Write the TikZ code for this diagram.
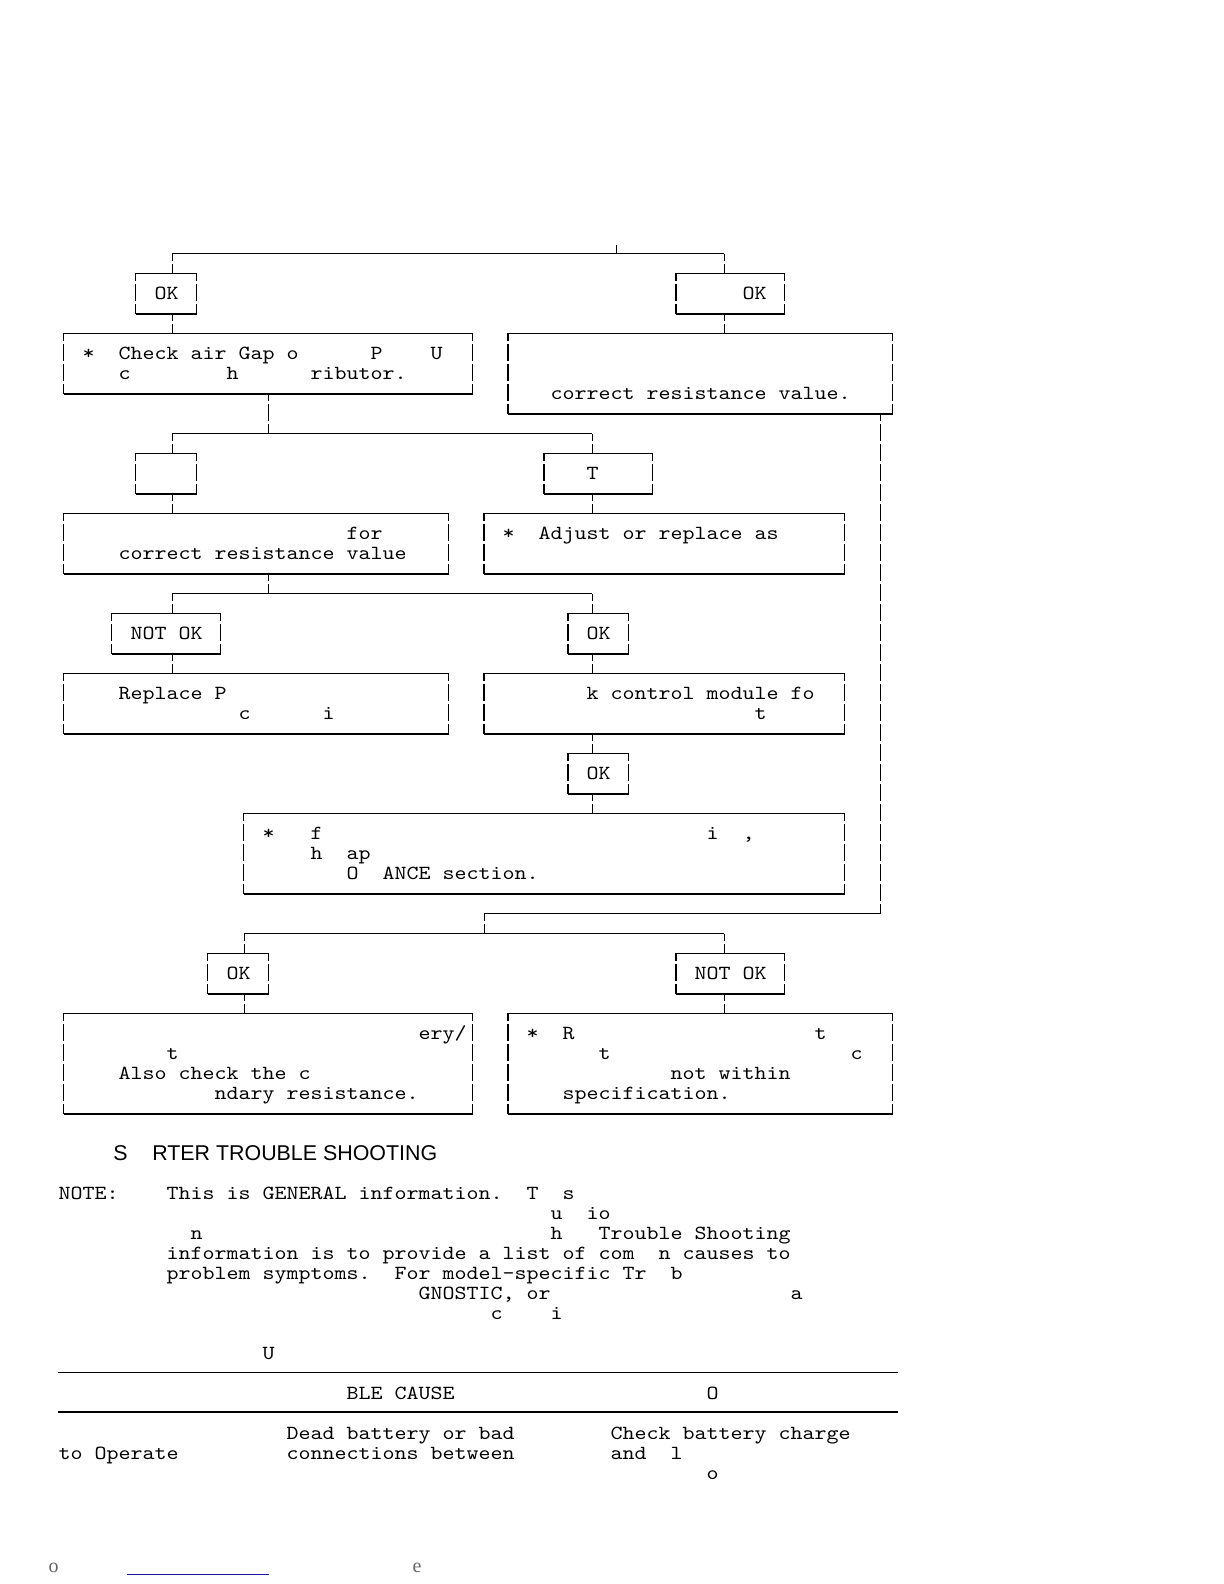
\documentclass[tikz,border=0pt]{standalone}
\usepackage{fontspec}
\setmonofont{lmmono10-regular.otf}[FakeStretch=1.1429]
\newfontfamily\headfont{Liberation Sans}
\newfontfamily\footfont{Liberation Serif}
\usepackage{tikz}
\usetikzlibrary{fit}
\definecolor{linkblue}{RGB}{26,26,160}
\newlength\cw
\setlength\cw{6pt}
\newcommand\sk[1]{\hspace*{#1\cw}}

\begin{document}
\frenchspacing
\begin{tikzpicture}[x=6pt, y=-10pt,
    box/.style={inner sep=0pt, fit={#1}},
    txt/.style={anchor=base west, inner sep=0pt, font=\ttfamily\fontsize{10}{10}\selectfont},
    bus/.style={draw, line width=0.6pt},
    link/.style={draw, line width=0.6pt, dash pattern=on 8.5pt off 1.5pt, dash phase=4.75pt}]

    \useasboundingbox (-0.358,0.05) rectangle (101.642,79.25);

    % first split
    \node [box={(11,13.725) (16,15.725)}] (okA) {};
    \node [box={(56,13.725) (65,15.725)}] (okB) {};
    \node [box={(5,16.725) (39,19.725)}] (a1) {};
    \node [box={(42,16.725) (74,20.725)}] (b1) {};

    % second split
    \node [box={(11,22.725) (16,24.725)}] (nA) {};
    \node [box={(45,22.725) (54,24.725)}] (tB) {};
    \node [box={(5,25.725) (37,28.725)}] (c1) {};
    \node [box={(40,25.725) (70,28.725)}] (c2) {};

    % third split
    \node [box={(9,30.725) (18,32.725)}] (noA) {};
    \node [box={(47,30.725) (52,32.725)}] (okC) {};
    \node [box={(5,33.725) (37,36.725)}] (d1) {};
    \node [box={(40,33.725) (70,36.725)}] (d2) {};
    \node [box={(47,37.725) (52,39.725)}] (okD) {};
    \node [box={(20,40.725) (70,44.725)}] (e1) {};

    % last split
    \node [box={(17,47.725) (22,49.725)}] (okE) {};
    \node [box={(56,47.725) (65,49.725)}] (noB) {};
    \node [box={(5,50.725) (39,55.725)}] (f1) {};
    \node [box={(42,50.725) (74,55.725)}] (f2) {};

    % frames
    \foreach \b in {okA,okB,a1,b1,nA,tB,c1,c2,noA,okC,d1,d2,okD,e1,okE,noB,f1,f2} {
        \draw [bus] (\b.north west) -- (\b.north east);
        \draw [bus] (\b.south west) -- (\b.south east);
        \draw [link] (\b.north west) -- (\b.south west);
        \draw [link] (\b.north east) -- (\b.south east);
    }

    % bus points
    \coordinate (in) at (51,12.3);
    \coordinate (bus13) at (51,12.725);
    \coordinate (bus22) at (22,21.725);
    \coordinate (bus30) at (22,29.725);
    \coordinate (bus46) at (73,45.725);
    \coordinate (bus47) at (40,46.725);

    % connectors
    \draw [bus] (in) -- (bus13);
    \draw [bus] ([xshift=3pt]okA.north |- bus13) -- ([xshift=-3pt]okB.north |- bus13);
    \draw [link] ([xshift=3pt]okA.north |- bus13) -- ([xshift=3pt]okA.north);
    \draw [link] ([xshift=-3pt]okB.north |- bus13) -- ([xshift=-3pt]okB.north);
    \draw [link] ([xshift=3pt]okA.south) -- ([xshift=3pt]okA.south |- a1.north);
    \draw [link] ([xshift=-3pt]okB.south) -- ([xshift=-3pt]okB.south |- b1.north);

    \draw [link] (a1.south -| bus22) -- (bus22);
    \draw [bus] ([xshift=3pt]nA.north |- bus22) -- ([xshift=-3pt]tB.north |- bus22);
    \draw [link] ([xshift=3pt]nA.north |- bus22) -- ([xshift=3pt]nA.north);
    \draw [link] ([xshift=-3pt]tB.north |- bus22) -- ([xshift=-3pt]tB.north);
    \draw [link] ([xshift=3pt]nA.south) -- ([xshift=3pt]nA.south |- c1.north);
    \draw [link] ([xshift=-3pt]tB.south) -- ([xshift=-3pt]tB.south |- c2.north);

    \draw [link] (c1.south -| bus30) -- (bus30);
    \draw [bus] ([xshift=3pt]noA.north |- bus30) -- ([xshift=-3pt]okC.north |- bus30);
    \draw [link] ([xshift=3pt]noA.north |- bus30) -- ([xshift=3pt]noA.north);
    \draw [link] ([xshift=-3pt]okC.north |- bus30) -- ([xshift=-3pt]okC.north);
    \draw [link] ([xshift=3pt]noA.south) -- ([xshift=3pt]noA.south |- d1.north);
    \draw [link] ([xshift=-3pt]okC.south) -- ([xshift=-3pt]okC.south |- d2.north);
    \draw [link] ([xshift=-3pt]okD.north |- d2.south) -- ([xshift=-3pt]okD.north);
    \draw [link] ([xshift=-3pt]okD.south) -- ([xshift=-3pt]okD.south |- e1.north);

    \draw [link] (b1.south -| bus46) -- (bus46);
    \draw [bus] (bus47 |- bus46) -- (bus46);
    \draw [link] (bus47 |- bus46) -- (bus47);
    \draw [bus] ([xshift=3pt]okE.north |- bus47) -- ([xshift=-3pt]noB.north |- bus47);
    \draw [link] ([xshift=3pt]okE.north |- bus47) -- ([xshift=3pt]okE.north);
    \draw [link] ([xshift=-3pt]noB.north |- bus47) -- ([xshift=-3pt]noB.north);
    \draw [link] ([xshift=3pt]okE.south) -- ([xshift=3pt]okE.south |- f1.north);
    \draw [link] ([xshift=-3pt]noB.south) -- ([xshift=-3pt]noB.south |- f2.north);

    % box texts
    \node [txt] (okAt) at (12.5,15) {OK};
    \node [txt] (okBt) at (61.5,15) {OK};
    \node [txt] (a1t1) at (6.5,18) {*\sk2Check air Gap o\sk6P\sk4U};
    \node [txt] (a1t2) at (9.5,19) {c\sk8h\sk6ributor.};
    \node [txt] (b1t) at (45.5,20) {correct resistance value.};
    \node [txt] (tBt) at (48.5,24) {T};
    \node [txt] (c1t1) at (28.5,27) {for};
    \node [txt] (c1t2) at (9.5,28) {correct resistance value};
    \node [txt] (c2t) at (41.5,27) {*\sk2Adjust or replace as};
    \node [txt] (noAt) at (10.5,32) {NOT OK};
    \node [txt] (okCt) at (48.5,32) {OK};
    \node [txt] (d1t1) at (9.5,35) {Replace P};
    \node [txt] (d1t2) at (19.5,36) {c\sk6i};
    \node [txt] (d2t1) at (48.5,35) {k control module fo};
    \node [txt] (d2t2) at (62.5,36) {t};
    \node [txt] (okDt) at (48.5,39) {OK};
    \node [txt] (e1t1) at (21.5,42) {*\sk3f\sk{32}i\sk2,};
    \node [txt] (e1t2) at (25.5,43) {h\sk2ap};
    \node [txt] (e1t3) at (28.5,44) {O\sk2ANCE section.};
    \node [txt] (okEt) at (18.5,49) {OK};
    \node [txt] (noBt) at (57.5,49) {NOT OK};
    \node [txt] (f1t1) at (34.5,52) {ery/};
    \node [txt] (f1t2) at (13.5,53) {t};
    \node [txt] (f1t3) at (9.5,54) {Also check the c};
    \node [txt] (f1t4) at (17.5,55) {ndary resistance.};
    \node [txt] (f2t1) at (43.5,52) {*\sk2R\sk{20}t};
    \node [txt] (f2t2) at (49.5,53) {t\sk{20}c};
    \node [txt] (f2t3) at (55.5,54) {not within};
    \node [txt] (f2t4) at (46.5,55) {specification.};

    % heading and note
    \node [anchor=base west, inner sep=0pt, font=\headfont\fontsize{10.7}{12}\selectfont] (head) at (9.06,58.05) {S\hspace{12.3pt}RTER TROUBLE SHOOTING};
    \node [txt] (n1) at (4.5,60) {NOTE:\sk4This is GENERAL information.\sk2T\sk2s};
    \node [txt] (n2) at (45.5,61) {u\sk2io};
    \node [txt] (n3) at (15.5,62) {n\sk{29}h\sk3Trouble Shooting};
    \node [txt] (n4) at (13.5,63) {information is to provide a list of com\sk2n causes to};
    \node [txt] (n5) at (13.5,64) {problem symptoms.\sk2For model-specific Tr\sk2b};
    \node [txt] (n6) at (34.5,65) {GNOSTIC, or\sk{20}a};
    \node [txt] (n7) at (40.5,66) {c\sk4i};

    % table
    \node [txt] (tu) at (21.5,68) {U};
    \draw [line width=0.75pt] (4.44,68.675) -- (74.46,68.675);
    \node [txt] (th) at (28.5,70) {BLE CAUSE\sk{21}O};
    \draw [line width=0.75pt] (4.44,70.64) -- (74.46,70.64);
    \node [txt] (tr1) at (23.5,72) {Dead battery or bad\sk8Check battery charge};
    \node [txt] (tr2) at (4.5,73) {to Operate\sk9connections between\sk8and\sk2l};
    \node [txt] (tr3) at (58.5,74) {o};

    % footer
    \node [anchor=base west, inner sep=0pt, text=black!60, font=\footfont\fontsize{10}{12}\selectfont] (fo) at (3.67,78.68) {o};
    \node [anchor=base west, inner sep=0pt, text=black!60, font=\footfont\fontsize{10}{12}\selectfont] (fe) at (34.0,78.68) {e};
    \draw [linkblue, line width=0.65pt] (10.2,78.77) -- (22.06,78.77);
\end{tikzpicture}
\end{document}
